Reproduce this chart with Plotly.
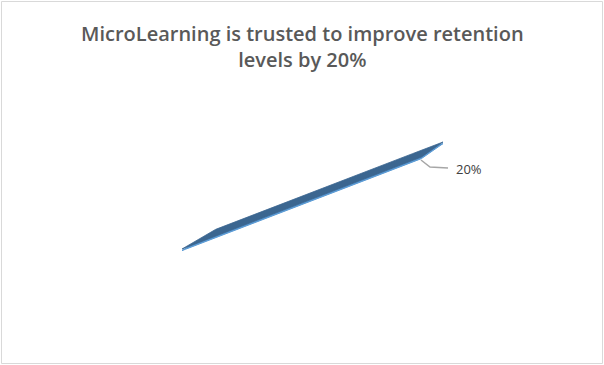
import numpy as np
import plotly.graph_objects as go

# Data
labels = ["Retention improvement"]
values = [20]
label_text = ["20%"]
title_text = "MicroLearning is trusted to improve retention<br>levels by 20%"

W, H = 604, 365

# 3D pie geometry (Excel-like, viewed almost edge-on) in pixel space
center = np.array([313.0, 195.0])
u_right = np.array([130.0, -53.0])
u_left = np.array([-131.0, 54.0])
v_top = np.array([-95.0, 33.0])
v_bot = np.array([107.0, -37.0])
depth = 1.6  # pie thickness in px

total = sum(values)
angles = np.cumsum([0] + values) / total * 2 * np.pi  # single series -> full disc


def disc(a0, a1, n=400, off=0.0):
    t = np.linspace(a0, a1, n)
    c, s = np.cos(t), np.sin(t)
    cx = np.abs(c) ** 2
    sy = np.abs(s) ** 2
    ux = np.where(c[:, None] >= 0, u_right[None, :], u_left[None, :])
    vy = np.where(s[:, None] >= 0, v_top[None, :], v_bot[None, :])
    pts = center[None, :] + cx[:, None] * ux + sy[:, None] * vy
    pts[:, 1] += off
    return pts

fig = go.Figure()

side = disc(angles[0], angles[-1], off=depth)
top = disc(angles[0], angles[-1])

fig.add_trace(go.Scatter(x=side[:, 0], y=side[:, 1], fill="toself", mode="lines",
                         line=dict(color="#5B9BD5", width=1), fillcolor="#5B9BD5",
                         hoverinfo="skip", showlegend=False))
fig.add_trace(go.Scatter(x=top[:, 0], y=top[:, 1], fill="toself", mode="lines",
                         line=dict(color="#3B6690", width=0.8), fillcolor="#3B6690",
                         name=labels[0], showlegend=False))

# leader line + label (starts on the lower rim near its front point)
edge = center + v_bot + np.array([1.0, 2.0])
fig.add_trace(go.Scatter(x=[edge[0], edge[0] + 9, edge[0] + 27],
                         y=[edge[1], edge[1] + 7, edge[1] + 8],
                         mode="lines", line=dict(color="#A6A6A6", width=1.5),
                         hoverinfo="skip", showlegend=False))
fig.add_annotation(x=edge[0] + 33, y=edge[1] + 9, text=label_text[0], showarrow=False,
                   xanchor="left", yanchor="middle",
                   font=dict(family="Open Sans", size=13, color="#404040"))

# title as a paper annotation for exact placement
fig.add_annotation(x=0.5, y=1 - 18 / H, xref="paper", yref="paper", text=title_text,
                   showarrow=False, xanchor="center", yanchor="top", align="center",
                   font=dict(family="Open Sans", size=20, color="#595959", weight=600))

fig.update_layout(
    width=W, height=H,
    margin=dict(l=0, r=0, t=0, b=0),
    paper_bgcolor="white", plot_bgcolor="white",
    xaxis=dict(range=[0, W], visible=False, fixedrange=True),
    yaxis=dict(range=[H, 0], visible=False, fixedrange=True),
    shapes=[dict(type="rect", xref="paper", yref="paper", x0=1.5 / W, y0=1.5 / H,
                 x1=1 - 1.5 / W, y1=1 - 1.5 / H,
                 line=dict(color="#D9D9D9", width=1))],
)

fig.write_html("out.html", config={"displayModeBar": False},
               post_script="document.body.style.margin='0';document.body.style.overflow='hidden';")
